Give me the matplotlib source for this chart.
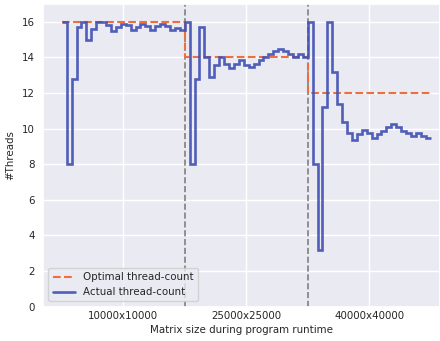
import numpy as np
import matplotlib
matplotlib.use("Agg")
import matplotlib.pyplot as plt
import seaborn as sns

# Gemessene Thread-Anzahl pro Schritt (3 Phasen zu je 25 Schritten)
actual_threads = [
    16, 8, 12.8, 15.7, 16, 15.0, 15.6, 16, 16, 15.8,
    15.5, 15.7, 15.9, 15.8, 15.55, 15.7, 15.9, 15.75, 15.55, 15.75,
    15.9, 15.75, 15.55, 15.65, 15.55,
    16, 8, 12.8, 15.7, 14.0, 12.9, 13.57, 14.0, 13.66, 13.38,
    13.66, 13.85, 13.57, 13.44, 13.66, 13.85, 14.03, 14.2, 14.37, 14.5,
    14.37, 14.18, 14.03, 14.18, 14.03,
    16, 8, 3.2, 11.2, 16, 13.2, 11.4, 10.38, 9.76, 9.35,
    9.69, 9.95, 9.73, 9.5, 9.69, 9.88, 10.1, 10.25, 10.1, 9.88,
    9.73, 9.58, 9.73, 9.58, 9.45,
]
# optimale Thread-Anzahl je Phase
optimal_threads = [16, 14, 12]
phase_labels = ["10000x10000", "25000x25000", "40000x40000"]
steps_per_phase = 25

sns.set_theme(style="darkgrid")
plt.rcParams["font.family"] = ["DejaVu Sans"]
fs = 7.4

fig = plt.figure(figsize=(4.4, 3.41), dpi=100)
ax = fig.add_axes([0.0985, 0.101, 0.9015, 0.887])

n = len(actual_threads)
edges = np.arange(n + 1)
phase_edges = np.arange(len(optimal_threads) + 1) * steps_per_phase

# Phasengrenzen
for b in phase_edges[1:-1]:
    ax.axvline(b, color="gray", linestyle="--", linewidth=1.2, zorder=1)

ax.stairs(optimal_threads, phase_edges, baseline=None, color="#EE6F3C",
          linestyle="--", linewidth=1.5, label="Optimal thread-count", zorder=2)
ax.stairs(actual_threads, edges, baseline=None, color="#3F4FB3",
          linewidth=1.9, alpha=0.9, label="Actual thread-count", zorder=3)

centers = (phase_edges[:-1] + phase_edges[1:]) / 2
ax.set_xticks(centers)
ax.set_xticklabels(phase_labels, fontsize=fs)
ax.set_yticks(np.arange(0, 17, 2))
ax.tick_params(axis="y", labelsize=fs, length=0, pad=6)
ax.tick_params(axis="x", length=0, pad=3.5)

ax.set_xlim(-3.75, 76.9)
ax.set_ylim(0, 17)

ax.set_xlabel("Matrix size during program runtime", fontsize=fs, labelpad=2.5)
ax.set_ylabel("#Threads", fontsize=fs, labelpad=5)

ax.legend(loc="lower left", fontsize=fs, handlelength=2.2)

plt.savefig("out.png", dpi=100)
plt.close()
